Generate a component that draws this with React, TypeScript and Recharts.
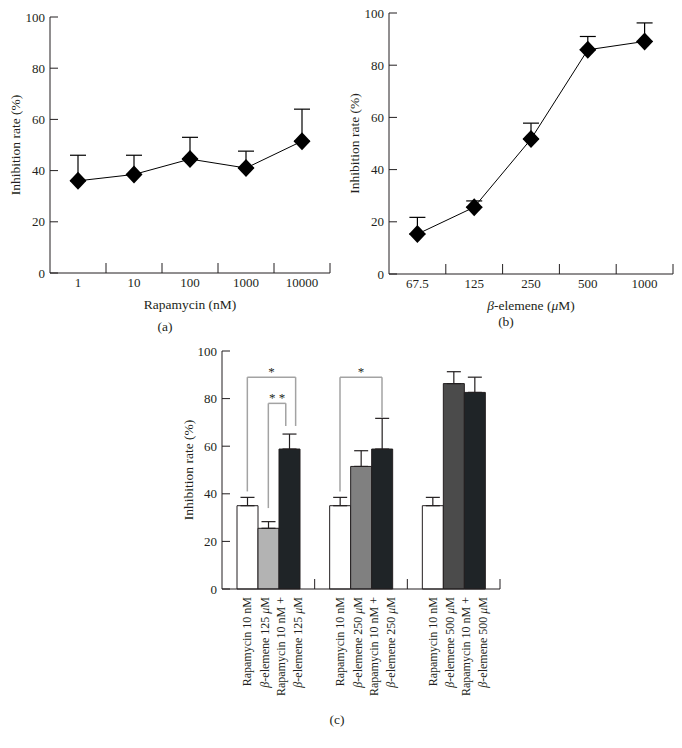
import React from "react";
import {
  LineChart,
  Line,
  BarChart,
  Bar,
  Cell,
  XAxis,
  YAxis,
  ErrorBar,
  ReferenceLine,
  Label,
} from "recharts";

const FONT = '"Liberation Serif", "DejaVu Serif", serif';
const INK = "#231f20";

// (a) rapamycin dose response
const rapaDoses = ["1", "10", "100", "1000", "10000"];
const rapaRate = [36, 38.5, 44.5, 41, 51.5];
const rapaSd = [10, 7.5, 8.5, 6.6, 12.5];

// (b) beta-elemene dose response
const eleDoses = ["67.5", "125", "250", "500", "1000"];
const eleRate = [15.3, 25.6, 51.7, 85.9, 89.1];
const eleSd = [6.4, 2.4, 6.1, 5.1, 7.1];

// (c) combination
const groups = ["125", "250", "500"];
const comboRapa = [35, 35, 35];
const comboRapaSd = [3.5, 3.5, 3.5];
const comboEle = [25.5, 51.5, 86.3];
const comboEleSd = [2.8, 6.6, 5.0];
const comboBoth = [58.8, 58.8, 82.6];
const comboBothSd = [6.3, 12.9, 6.4];
const eleFills = ["#b3b3b3", "#808080", "#4b4b4b"];

const yTicks = [0, 20, 40, 60, 80, 100];

// significance brackets: [group, bar, shift in bar widths]
const brackets = [
  { from: [0, 0, 0], to: [0, 2, 0.3], lowFrom: 41, lowTo: 68.5, top: 89, mark: "*" },
  { from: [0, 1, 0], to: [0, 2, -0.17], lowFrom: 34, lowTo: 68.5, top: 78, mark: "* *" },
  { from: [1, 0, 0], to: [1, 2, 0], lowFrom: 41, lowTo: 72, top: 89, mark: "*" },
];

const dataA = rapaDoses.map((d, i) => ({ dose: d, rate: rapaRate[i], err: [0, rapaSd[i]] }));
const dataB = eleDoses.map((d, i) => ({ dose: d, rate: eleRate[i], err: [0, eleSd[i]] }));
const dataC = groups.map((g, i) => ({
  group: g,
  pos: i + 0.5,
  rapa: comboRapa[i],
  rapaErr: [0, comboRapaSd[i]],
  ele: comboEle[i],
  eleErr: [0, comboEleSd[i]],
  both: comboBoth[i],
  bothErr: [0, comboBothSd[i]],
}));

const tickStyle = { fontFamily: FONT, fontSize: 13, fill: INK };
const titleStyle = { fontFamily: FONT, fontSize: 13.5, fill: INK };
const rotStyle = { fontFamily: FONT, fontSize: 12, fill: INK };

// layout for (a) and (b)
const AB_W = 341;
const A_MARGIN = { top: 17, right: 11, bottom: 37, left: 0 };
const A_YW = 50;
const B_MARGIN = { top: 13, right: 9, bottom: 36, left: 0 };
const B_YW = 48;
const TICK_GAP = 7;

// layout for (c)
const C_W = 400;
const C_MARGIN = { top: 11, right: 20, bottom: 39, left: 52 };
const C_YW = 50;
const C_PLOT_W = C_W - C_MARGIN.left - C_MARGIN.right - C_YW;
const C_BAND = C_PLOT_W / groups.length;
const BAR = 21;
const BAR_FRAC = BAR / C_BAND;
const barPos = (p: number[]) => p[0] + 0.5 + (p[1] - 1 + p[2]) * BAR_FRAC;

const rich = (s: string) =>
  s
    .split(/([βμ])/)
    .filter(Boolean)
    .map((p, i) =>
      p === "β" || p === "μ" ? (
        <tspan key={i} fontStyle="italic">
          {p}
        </tspan>
      ) : (
        <tspan key={i}>{p}</tspan>
      )
    );

const Diamond = (props: any) => {
  const { cx, cy, index } = props;
  if (cx == null || cy == null) return <g key={index} />;
  return (
    <polygon
      key={index}
      points={`${cx},${cy - 9} ${cx + 8.5},${cy} ${cx},${cy + 9} ${cx - 8.5},${cy}`}
      fill="#000"
    />
  );
};

const yTitle = (bx: number) => (props: any) => {
  const vb = props.viewBox;
  const y = vb.y + vb.height / 2;
  return (
    <text x={bx} y={y} transform={`rotate(-90 ${bx} ${y})`} textAnchor="middle" style={titleStyle}>
      Inhibition rate (%)
    </text>
  );
};

const xTitle = (title: string, tag: string, dy: number, tagDx: number, tagDy: number) => (props: any) => {
  const vb = props.viewBox;
  const cx = vb.x + vb.width / 2;
  return (
    <g>
      {title && (
        <text x={cx} y={vb.y + dy} textAnchor="middle" style={titleStyle}>
          {rich(title)}
        </text>
      )}
      <text x={cx + tagDx} y={vb.y + tagDy} textAnchor="middle" style={titleStyle}>
        {tag}
      </text>
    </g>
  );
};

// category label plus the inward tick mark on the category boundary
const doseTick = (band: number) => (props: any) => {
  const { x, y, payload } = props;
  const axisY = y - TICK_GAP;
  const bx = x + band / 2;
  return (
    <g>
      <text x={x} y={axisY + 14} textAnchor="middle" style={tickStyle}>
        {payload.value}
      </text>
      <line x1={bx} x2={bx} y1={axisY} y2={axisY - 10} stroke={INK} strokeWidth={1} />
    </g>
  );
};

const comboLabels = groups.map((g) => [
  ["Rapamycin 10 nM"],
  [`β-elemene ${g} μM`],
  ["Rapamycin 10 nM +", `β-elemene ${g} μM`],
]);

const ComboTick = (props: any) => {
  const { x, y, index } = props;
  const labels = comboLabels[index];
  if (!labels) return <g />;
  const axisY = y - 8;
  const bx = x + C_BAND / 2;
  const shifts = [[4], [0.5], [-4.5, 12.5]];
  return (
    <g>
      <line x1={bx} x2={bx} y1={axisY} y2={axisY - 10} stroke={INK} strokeWidth={1} />
      {labels.map((lines, b) =>
        lines.map((line, k) => {
          const lx = x + (b - 1) * BAR + shifts[b][k];
          return (
            <text
              key={`${b}-${k}`}
              x={lx}
              y={y}
              transform={`rotate(-90 ${lx} ${y})`}
              textAnchor="end"
              style={rotStyle}
            >
              {rich(line)}
            </text>
          );
        })
      )}
    </g>
  );
};

function DosePanel({ data, title, tag, tagDy, margin, yw, yBase }: any) {
  const band = (AB_W - margin.left - margin.right - yw) / data.length;
  return (
    <LineChart width={AB_W} height={340} data={data} margin={margin}>
      <XAxis
        dataKey="dose"
        scale="band"
        height={30}
        tickLine={false}
        tickSize={0}
        tickMargin={TICK_GAP}
        stroke={INK}
        tick={doseTick(band)}
        interval={0}
      >
        <Label content={xTitle(title, tag, 36, -25, tagDy)} />
      </XAxis>
      <YAxis
        width={yw}
        domain={[0, 100]}
        ticks={yTicks}
        tickSize={-8}
        tickMargin={13}
        stroke={INK}
        tick={tickStyle}
      >
        <Label content={yTitle(yBase)} />
      </YAxis>
      <Line
        dataKey="rate"
        stroke="#000"
        strokeWidth={1}
        dot={Diamond}
        activeDot={false}
        isAnimationActive={false}
      >
        <ErrorBar dataKey="err" width={8} stroke="#000" strokeWidth={1.2} direction="y" />
      </Line>
    </LineChart>
  );
}

export default function App() {
  return (
    <div
      style={{
        position: "absolute",
        left: 0,
        top: 0,
        width: 682,
        height: 748,
        background: "#fff",
        fontFamily: FONT,
      }}
    >
      <div style={{ position: "absolute", left: 0, top: 0 }}>
        <DosePanel
          data={dataA}
          title="Rapamycin (nM)"
          tag="(a)"
          tagDy={58}
          yBase={19.5}
          margin={A_MARGIN}
          yw={A_YW}
        />
      </div>
      <div style={{ position: "absolute", left: 341, top: 0 }}>
        <DosePanel
          data={dataB}
          title="β-elemene (μM)"
          tag="(b)"
          tagDy={52}
          yBase={17.5}
          margin={B_MARGIN}
          yw={B_YW}
        />
      </div>
      <div style={{ position: "absolute", left: 120, top: 340 }}>
        <BarChart width={C_W} height={408} data={dataC} margin={C_MARGIN} barGap={0}>
          <XAxis
            dataKey="group"
            height={120}
            tickLine={false}
            tickSize={0}
            tickMargin={8}
            stroke={INK}
            tick={ComboTick}
            interval={0}
          >
            <Label content={xTitle("", "(c)", 0, -24, 135)} />
          </XAxis>
          <XAxis
            xAxisId="num"
            dataKey="pos"
            type="number"
            domain={[0, groups.length]}
            allowDataOverflow
            hide
          />
          <YAxis
            width={C_YW}
            domain={[0, 100]}
            ticks={yTicks}
            tickSize={-8}
            tickMargin={13}
            stroke={INK}
            tick={tickStyle}
          >
            <Label content={yTitle(72.5)} />
          </YAxis>
          <Bar dataKey="rapa" fill="#ffffff" stroke={INK} barSize={BAR} isAnimationActive={false}>
            <ErrorBar dataKey="rapaErr" width={7} stroke={INK} strokeWidth={1.2} direction="y" />
          </Bar>
          <Bar dataKey="ele" stroke={INK} barSize={BAR} isAnimationActive={false}>
            {groups.map((g, i) => (
              <Cell key={g} fill={eleFills[i]} />
            ))}
            <ErrorBar dataKey="eleErr" width={7} stroke={INK} strokeWidth={1.2} direction="y" />
          </Bar>
          <Bar dataKey="both" fill="#1f2427" stroke={INK} barSize={BAR} isAnimationActive={false}>
            <ErrorBar dataKey="bothErr" width={7} stroke={INK} strokeWidth={1.2} direction="y" />
          </Bar>
          {brackets.map((br, i) => {
            const x1 = barPos(br.from);
            const x2 = barPos(br.to);
            const line = { xAxisId: "num", stroke: "#a3a3a3", strokeWidth: 1.5, ifOverflow: "visible" as const };
            return [
              <ReferenceLine
                key={`l${i}`}
                {...line}
                segment={[
                  { x: x1, y: br.lowFrom },
                  { x: x1, y: br.top },
                ]}
              />,
              <ReferenceLine
                key={`t${i}`}
                {...line}
                segment={[
                  { x: x1, y: br.top },
                  { x: x2, y: br.top },
                ]}
                label={{ value: br.mark, position: "top", offset: 1, ...tickStyle }}
              />,
              <ReferenceLine
                key={`r${i}`}
                {...line}
                segment={[
                  { x: x2, y: br.top },
                  { x: x2, y: br.lowTo },
                ]}
              />,
            ];
          })}
        </BarChart>
      </div>
    </div>
  );
}
